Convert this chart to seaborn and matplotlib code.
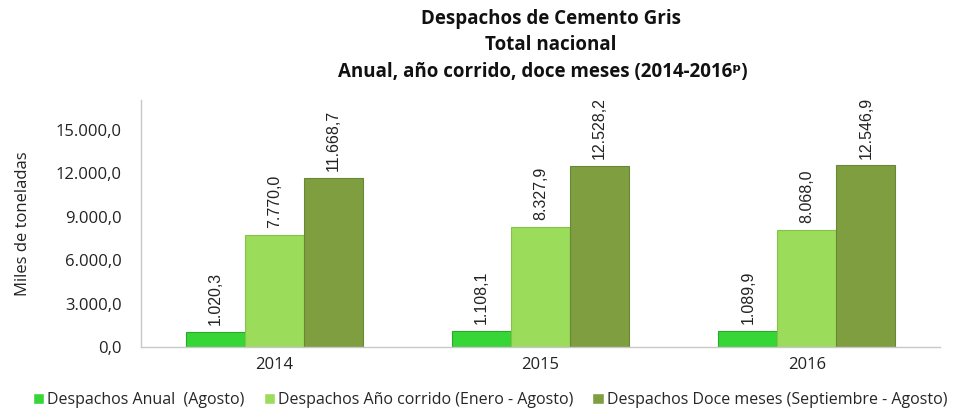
import matplotlib
matplotlib.use("Agg")
import matplotlib.pyplot as plt
import seaborn as sns
import pandas as pd
from matplotlib.ticker import FuncFormatter

years = ["2014", "2015", "2016"]
series = ["Despachos Anual  (Agosto)",
          "Despachos Año corrido (Enero - Agosto)",
          "Despachos Doce meses (Septiembre - Agosto)"]
anual = [1020.3, 1108.1, 1089.9]
corrido = [7770.0, 8327.9, 8068.0]
doce = [11668.7, 12528.2, 12546.9]
colors = ["#36d636", "#9bdc5a", "#7f9e40"]
edge_colors = ["#2aa82a", "#86c24a", "#6a8735"]

rows = []
for s, vals in zip(series, [anual, corrido, doce]):
    for y, v in zip(years, vals):
        rows.append({"Año": y, "Serie": s, "Valor": v})
df = pd.DataFrame(rows)

sns.set_theme(style="white")
plt.rcParams['font.family'] = ['Open Sans', 'DejaVu Sans']

def fmt(v):
    s = f"{v:,.1f}"
    return s.replace(",", "X").replace(".", ",").replace("X", ".")

fig = plt.figure(figsize=(9.61, 4.12), dpi=100)
ax = fig.add_axes([141/961, 1-347/412, (940-141)/961, 247/412])
sns.barplot(data=df, x="Año", y="Valor", hue="Serie", palette=colors,
            width=0.665, ax=ax, legend=True, saturation=1)

for cont, ec in zip(ax.containers, edge_colors):
    for bar in cont:
        bar.set_edgecolor(ec)
        bar.set_linewidth(0.8)
    labels = [fmt(b.get_height()) for b in cont]
    ax.bar_label(cont, labels=labels, rotation=90, padding=5,
                 fontsize=11.5, family=['Liberation Sans', 'DejaVu Sans'],
                 color="#222222")

ax.set_ylim(0, 17074)
ax.set_yticks([0, 3000, 6000, 9000, 12000, 15000])
ax.yaxis.set_major_formatter(FuncFormatter(lambda v, p: fmt(v)))
ax.set_xlim(-0.5, 2.5)
ax.set_xlabel("")
ax.set_ylabel("Miles de toneladas", fontsize=12, color="#222222", labelpad=18)
ax.tick_params(axis="both", labelsize=12, colors="#222222", length=0)
ax.tick_params(axis="y", pad=14)
ax.tick_params(axis="x", pad=7)
for side in ["top", "right"]:
    ax.spines[side].set_visible(False)
for side in ["left", "bottom"]:
    ax.spines[side].set_color("#c8c8c8")
    ax.spines[side].set_linewidth(1)
ax.set_xticks([-0.5, 0.5, 1.5, 2.5], minor=True)
ax.tick_params(axis="x", which="minor", length=5, color="#c8c8c8", direction="out")
ax.set_yticks([0, 3000, 6000, 9000, 12000, 15000], minor=True)
ax.tick_params(axis="y", which="minor", length=5, color="#c8c8c8", direction="out")

handles, lbls = ax.get_legend_handles_labels()
ax.get_legend().remove()
fig.legend(handles, lbls, loc="center", bbox_to_anchor=(490/961, 1-400/412),
           ncol=3, frameon=False, fontsize=11.5, handlelength=0.7, handleheight=0.7,
           handletextpad=0.2, columnspacing=1.2, borderaxespad=0)

title_kw = dict(ha="center", va="center", fontsize=13.5, fontweight="bold", color="#111111")
fig.text(551/961, 1-19/412, "Despachos de Cemento Gris", **title_kw)
fig.text(551/961, 1-45/412, "Total nacional", **title_kw)
fig.text(543/961, 1-72/412, "Anual, año corrido, doce meses (2014-2016ᵖ)", **title_kw)

fig.savefig("out.png", dpi=100)
